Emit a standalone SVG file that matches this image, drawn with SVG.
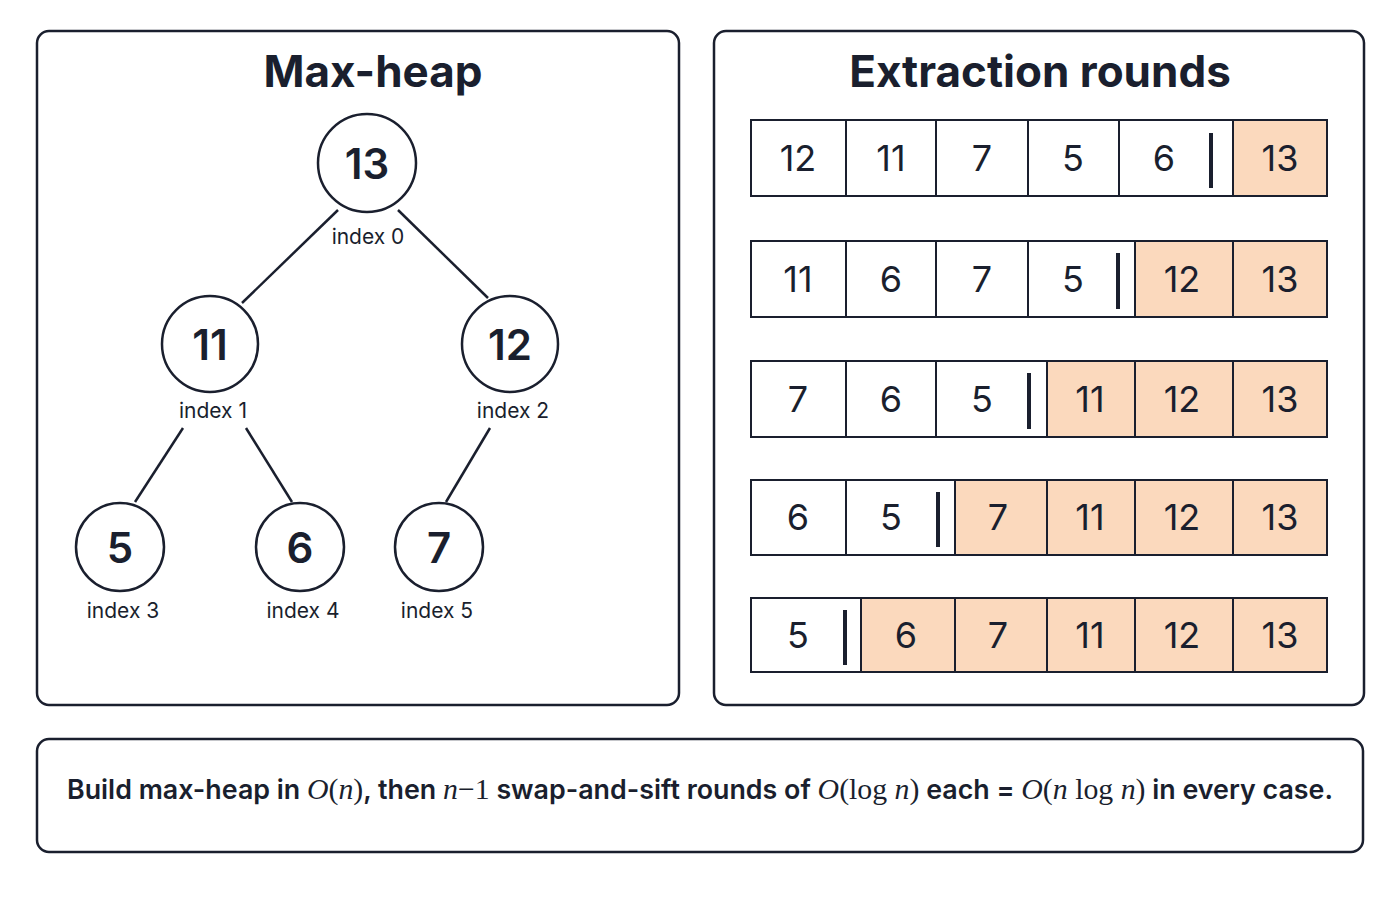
<svg xmlns="http://www.w3.org/2000/svg" width="1400" height="900" viewBox="0 0 1400 900">
<style>
.panel{fill:#fff;stroke:#1a1f2e;stroke-width:2.5}
.node{fill:#fff;stroke:#1a1f2e;stroke-width:2.5}
.edge{stroke:#1a1f2e;stroke-width:2.5}
.title{font-family:Inter,"Liberation Sans",sans-serif;font-weight:700;font-size:44px;fill:#1a1f2e;text-anchor:middle}
.num{font-family:Inter,"Liberation Sans",sans-serif;font-weight:600;font-size:42px;fill:#1a1f2e;text-anchor:middle;dominant-baseline:central}
.idx{font-family:Inter,"Liberation Sans",sans-serif;font-size:21px;fill:#1a1f2e;text-anchor:middle}
.cell{fill:#fff;stroke:#1a1f2e;stroke-width:2}
.done{fill:#fbd9bd;stroke:#1a1f2e;stroke-width:2}
.cnum{font-family:Inter,"Liberation Sans",sans-serif;font-size:36px;fill:#1a1f2e;text-anchor:middle;dominant-baseline:central}
.bar{stroke:#1a1f2e;stroke-width:4}
.note{font-family:Inter,"Liberation Sans",sans-serif;font-weight:600;font-size:27px;fill:#1a1f2e;text-anchor:middle}
.m{font-family:"Liberation Serif",serif;font-style:italic;font-weight:400;font-size:30px}
.mr{font-family:"Liberation Serif",serif;font-weight:400;font-size:30px}
</style>
<rect class="panel" x="37" y="31" width="642" height="674" rx="12"/>
<rect class="panel" x="714" y="31" width="650" height="674" rx="12"/>
<rect class="panel" x="37" y="739" width="1326" height="113" rx="12"/>
<text class="title" x="373" y="87">Max-heap</text>
<text class="title" x="1040" y="87">Extraction rounds</text>
<g id="connectors">
<line class="edge" x1="338" y1="210" x2="242" y2="303"/>
<line class="edge" x1="398" y1="210" x2="488" y2="298"/>
<line class="edge" x1="183" y1="428" x2="135" y2="502"/>
<line class="edge" x1="246" y1="428" x2="292" y2="502"/>
<line class="edge" x1="490" y1="428" x2="446" y2="502"/>
</g>
<g id="n13"><circle class="node" cx="367" cy="163" r="49"/><text class="num" x="367" y="163">13</text><text class="idx" x="368" y="244">index 0</text></g>
<g id="n11"><circle class="node" cx="210" cy="344" r="48"/><text class="num" x="210" y="344">11</text><text class="idx" x="213" y="418">index 1</text></g>
<g id="n12"><circle class="node" cx="510" cy="344" r="48"/><text class="num" x="510" y="344">12</text><text class="idx" x="513" y="418">index 2</text></g>
<g id="n5"><circle class="node" cx="120" cy="547" r="44"/><text class="num" x="120" y="547">5</text><text class="idx" x="123" y="618">index 3</text></g>
<g id="n6"><circle class="node" cx="300" cy="547" r="44"/><text class="num" x="300" y="547">6</text><text class="idx" x="303" y="618">index 4</text></g>
<g id="n7"><circle class="node" cx="439" cy="547" r="44"/><text class="num" x="439" y="547">7</text><text class="idx" x="437" y="618">index 5</text></g>
<g id="row1">
<rect class="cell" x="751" y="120" width="95" height="76"/><text class="cnum" x="798" y="158">12</text>
<rect class="cell" x="846" y="120" width="90" height="76"/><text class="cnum" x="891" y="158">11</text>
<rect class="cell" x="936" y="120" width="92" height="76"/><text class="cnum" x="982" y="158">7</text>
<rect class="cell" x="1028" y="120" width="91" height="76"/><text class="cnum" x="1073" y="158">5</text>
<rect class="cell" x="1119" y="120" width="114" height="76"/><text class="cnum" x="1164" y="158">6</text>
<line class="bar" x1="1211" y1="133" x2="1211" y2="188"/>
<rect class="done" x="1233" y="120" width="94" height="76"/><text class="cnum" x="1280" y="158">13</text>
</g>
<g id="row2">
<rect class="cell" x="751" y="241" width="95" height="76"/><text class="cnum" x="798" y="279">11</text>
<rect class="cell" x="846" y="241" width="90" height="76"/><text class="cnum" x="891" y="279">6</text>
<rect class="cell" x="936" y="241" width="92" height="76"/><text class="cnum" x="982" y="279">7</text>
<rect class="cell" x="1028" y="241" width="107" height="76"/><text class="cnum" x="1073" y="279">5</text>
<line class="bar" x1="1118" y1="253" x2="1118" y2="309"/>
<rect class="done" x="1135" y="241" width="98" height="76"/><text class="cnum" x="1182" y="279">12</text>
<rect class="done" x="1233" y="241" width="94" height="76"/><text class="cnum" x="1280" y="279">13</text>
</g>
<g id="row3">
<rect class="cell" x="751" y="361" width="95" height="76"/><text class="cnum" x="798" y="399">7</text>
<rect class="cell" x="846" y="361" width="90" height="76"/><text class="cnum" x="891" y="399">6</text>
<rect class="cell" x="936" y="361" width="111" height="76"/><text class="cnum" x="982" y="399">5</text>
<line class="bar" x1="1029" y1="373" x2="1029" y2="429"/>
<rect class="done" x="1047" y="361" width="88" height="76"/><text class="cnum" x="1090" y="399">11</text>
<rect class="done" x="1135" y="361" width="98" height="76"/><text class="cnum" x="1182" y="399">12</text>
<rect class="done" x="1233" y="361" width="94" height="76"/><text class="cnum" x="1280" y="399">13</text>
</g>
<g id="row4">
<rect class="cell" x="751" y="480" width="95" height="75"/><text class="cnum" x="798" y="517">6</text>
<rect class="cell" x="846" y="480" width="109" height="75"/><text class="cnum" x="891" y="517">5</text>
<line class="bar" x1="938" y1="492" x2="938" y2="547"/>
<rect class="done" x="955" y="480" width="92" height="75"/><text class="cnum" x="998" y="517">7</text>
<rect class="done" x="1047" y="480" width="88" height="75"/><text class="cnum" x="1090" y="517">11</text>
<rect class="done" x="1135" y="480" width="98" height="75"/><text class="cnum" x="1182" y="517">12</text>
<rect class="done" x="1233" y="480" width="94" height="75"/><text class="cnum" x="1280" y="517">13</text>
</g>
<g id="row5">
<rect class="cell" x="751" y="598" width="110" height="74"/><text class="cnum" x="798" y="635">5</text>
<line class="bar" x1="845" y1="610" x2="845" y2="665"/>
<rect class="done" x="861" y="598" width="94" height="74"/><text class="cnum" x="906" y="635">6</text>
<rect class="done" x="955" y="598" width="92" height="74"/><text class="cnum" x="998" y="635">7</text>
<rect class="done" x="1047" y="598" width="88" height="74"/><text class="cnum" x="1090" y="635">11</text>
<rect class="done" x="1135" y="598" width="98" height="74"/><text class="cnum" x="1182" y="635">12</text>
<rect class="done" x="1233" y="598" width="94" height="74"/><text class="cnum" x="1280" y="635">13</text>
</g>
<text class="note" x="700" y="799" textLength="1266" lengthAdjust="spacingAndGlyphs">Build max-heap in <tspan class="m">O</tspan><tspan class="mr">(</tspan><tspan class="m">n</tspan><tspan class="mr">)</tspan>, then <tspan class="m">n</tspan><tspan class="mr">−1</tspan> swap-and-sift rounds of <tspan class="m">O</tspan><tspan class="mr">(log </tspan><tspan class="m">n</tspan><tspan class="mr">)</tspan> each = <tspan class="m">O</tspan><tspan class="mr">(</tspan><tspan class="m">n</tspan><tspan class="mr"> log </tspan><tspan class="m">n</tspan><tspan class="mr">)</tspan> in every case.</text>
</svg>
